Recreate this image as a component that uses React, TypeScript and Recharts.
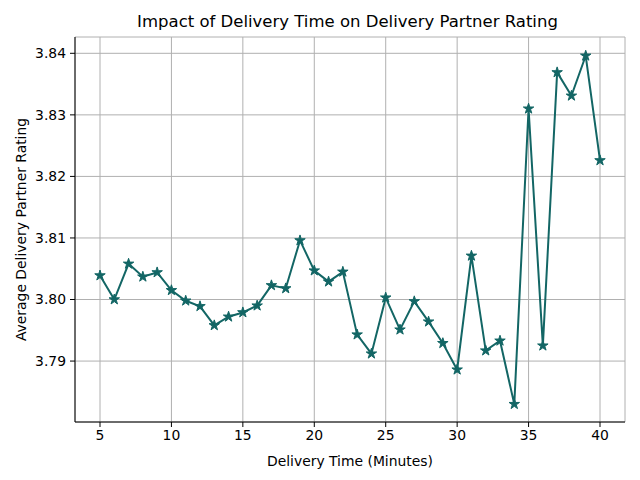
import React from 'react';
import { LineChart, Line, XAxis, YAxis, CartesianGrid, Label, Symbols } from 'recharts';

const minutes = [
  5, 6, 7, 8, 9, 10, 11, 12, 13, 14, 15, 16, 17, 18, 19, 20, 21, 22,
  23, 24, 25, 26, 27, 28, 29, 30, 31, 32, 33, 34, 35, 36, 37, 38, 39, 40,
];
const ratings = [
  3.8039, 3.8000, 3.8058, 3.8037, 3.8044, 3.8015, 3.7998, 3.7989, 3.7958,
  3.7972, 3.7979, 3.7990, 3.8023, 3.8018, 3.8096, 3.8047, 3.8029, 3.8045,
  3.7943, 3.7912, 3.8003, 3.7951, 3.7997, 3.7964, 3.7929, 3.7886, 3.8071,
  3.7917, 3.7933, 3.7830, 3.8310, 3.7925, 3.8369, 3.8331, 3.8396, 3.8226,
];
const xTicks = [5, 10, 15, 20, 25, 30, 35, 40];
const yTicks = [3.79, 3.8, 3.81, 3.82, 3.83, 3.84];

const data = minutes.map((m, i) => ({ minutes: m, rating: ratings[i] }));

const LINE = '#136665';
const FONT = 'DejaVu Sans, sans-serif';
const xDomain = [3.25, 41.75];
const yDomain = [3.7801, 3.84265];

const StarDot = (props: any) => {
  const { cx, cy, index } = props;
  return <Symbols key={index} cx={cx} cy={cy} type="star" size={34} fill={LINE} stroke={LINE} strokeWidth={1} />;
};

export default function App() {
  return (
    <div style={{ position: 'absolute', left: 0, top: 0, width: 640, height: 480, background: '#fff' }}>
      <div
        style={{
          position: 'absolute',
          top: 12,
          left: 0,
          width: 695,
          textAlign: 'center',
          fontFamily: FONT,
          fontSize: 16.5,
        }}
      >
        Impact of Delivery Time on Delivery Partner Rating
      </div>
      <LineChart width={640} height={480} data={data} margin={{ top: 37, right: 15, left: 0, bottom: 0 }}>
        <CartesianGrid stroke="#b0b0b0" strokeWidth={1} vertical horizontal />
        <XAxis
          dataKey="minutes"
          type="number"
          domain={xDomain}
          ticks={xTicks}
          height={58}
          stroke="#000"
          tickSize={5}
          tickMargin={3}
          tick={{ fill: '#000', fontFamily: FONT, fontSize: 13.9 }}
          allowDataOverflow
        >
          <Label value="Delivery Time (Minutes)" position="insideBottom" offset={14} fill="#000" fontFamily={FONT} fontSize={13.9} />
        </XAxis>
        <XAxis
          xAxisId="top"
          orientation="top"
          type="number"
          domain={xDomain}
          height={0}
          tick={false}
          tickLine={false}
          stroke="#000"
        />
        <YAxis
          type="number"
          domain={yDomain}
          ticks={yTicks}
          width={75}
          stroke="#000"
          tickSize={5}
          tickMargin={4}
          tickFormatter={(v: number) => v.toFixed(2)}
          tick={{ fill: '#000', fontFamily: FONT, fontSize: 13.9 }}
          allowDataOverflow
        >
          <Label
            value="Average Delivery Partner Rating"
            angle={-90}
            position="insideLeft"
            offset={21}
            style={{ textAnchor: 'middle' }}
            fill="#000"
            fontFamily={FONT}
            fontSize={13.9}
          />
        </YAxis>
        <YAxis
          yAxisId="right"
          orientation="right"
          type="number"
          domain={yDomain}
          width={0}
          tick={false}
          tickLine={false}
          stroke="#000"
        />
        <Line
          type="linear"
          dataKey="rating"
          stroke={LINE}
          strokeWidth={2}
          dot={StarDot}
          activeDot={false}
          isAnimationActive={false}
        />
      </LineChart>
    </div>
  );
}
